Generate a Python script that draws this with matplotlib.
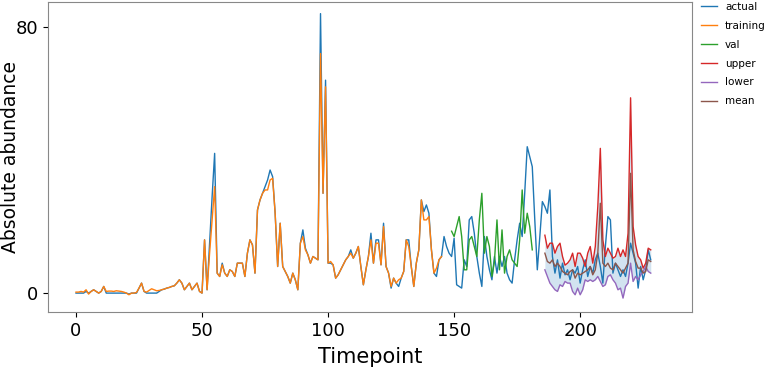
import numpy as np
import matplotlib
matplotlib.use('Agg')
import matplotlib.pyplot as plt

plt.rcParams['font.family'] = ['DejaVu Sans']

# observed abundance, timepoints 0..228
actual = [0, 0, 0, 0, 0.5, 0, 0.5, 1, 0.5, 0,
          0.5, 2, 0, 0, 0, 0, 0, 0, 0, 0,
          0, -0.3, 0, 0, 0, 1.5, 3, 0.5, 0, 0,
          0, 0, 0, 0.5, 1, 1.2, 1.5, 1.7, 2, 2.2,
          3, 4, 3, 1, 2, 3, 1, 2, 3, 0.5,
          0, 16, 1, 15, 29, 42, 6, 5, 9, 6,
          5, 7, 6.5, 5, 9, 9, 9, 5, 12, 16,
          14.5, 6, 25, 28, 30, 32, 34, 37, 35, 24,
          8, 21, 8, 6.5, 5, 3, 6, 4, 1, 15,
          19, 13.5, 11.5, 9, 11, 10.5, 10, 84, 30, 64,
          9, 9, 8.5, 4.5, 5.5, 7, 8.5, 10, 11, 13,
          10.5, 12, 14, 8, 2.5, 7, 11, 18, 9, 16,
          16, 8.5, 21, 8, 6, 1.5, 4.5, 3, 2, 4.5,
          6.5, 16, 16, 8, 2, 9, 13, 28, 24.5, 26.5,
          24, 13, 6, 5, 10, 11, 17, 14, 12, 11,
          16.5, 2.5, 2, 1.5, 10, 8, 22, 23, 18, 11,
          6, 2, 17, 11, 7, 4, 11, 6, 11, 8,
          11, 6, 4, 3, 10, 16, 21, 17, 30, 44,
          41, 38, 22, 7, 17, 27.5, 26, 24, 31, 11,
          6, 10, 4.5, 9, 5.5, 7, 4, 7, 6, 8,
          3, 7, 10, 5, 8, 6, 10, 12, 8, 3,
          14, 23, 22, 6, 9, 7, 5, 7, 5, 9,
          15, 12, 9, 1.5, 8, 4, 7, 13, 10]

# fitted values on the training period, timepoints 0..145
training = [0.3, 0.3, 0.5, 0.3, 1, -0.3, 0.5, 1, 0.5, 0,
            0.5, 2, 0.5, 0.6, 0.6, 0.5, 0.7, 0.6, 0.5, 0.3,
            0, -0.5, 0, 0, 0.2, 1.5, 3, 0.5, 0.3, 0.8,
            1.3, 1, 0.7, 0.8, 1, 1.2, 1.5, 1.7, 2, 2.2,
            3, 4, 3, 1, 2, 3, 1, 2, 3, 0.5,
            0, 16, 1, 12, 22, 32, 6, 5, 8.5, 6,
            5, 7, 6.5, 5, 9, 9, 9, 5, 12, 16,
            14.5, 6, 25, 28, 30, 31, 31, 34, 34.5, 24,
            8, 21, 8, 6.5, 5, 3, 6, 4, 1, 15,
            17, 13, 11.5, 9, 11, 10.5, 10, 72, 30, 62,
            9, 9.5, 8.5, 4.5, 5.5, 7, 8.5, 10, 11, 12,
            10.5, 12, 14, 8, 2.5, 7, 11, 16, 9, 15,
            15, 8.5, 20, 8, 6, 2, 4.5, 3, 4, 4.5,
            6.5, 16, 14, 8, 2, 9, 13, 28, 22, 22,
            23, 13, 6, 7.5, 10, 11]

# predictions on the validation period, timepoints 149..181
val = [18.6, 17, 20, 23, 17, 7, 7, 16, 17, 14,
       11, 22, 30, 12, 17, 14, 5, 9.5, 22, 7,
       19, 6, 11, 13, 10, 9, 8, 16, 31, 18,
       24, 20, 13]

# forecast band, timepoints 186..228
upper = [17.4, 13.5, 15, 15, 12, 14, 15, 11, 8.4, 9,
         10, 12, 8, 12, 12, 10.5, 8, 12, 14, 9,
         14, 26, 43.5, 16, 11, 13.5, 12, 10.5, 11, 13.5,
         11, 13, 11, 18, 58.7, 20, 14.5, 11, 10, 7.5,
         9, 13.5, 13]
lower = [7, 5, 3, 2, 1, 0.5, 2.5, 2, 3.5, 3,
         3, 0.5, -0.5, 1.5, -0.5, 1, 4, 3.5, 4, 3.5,
         4, 5, 3.5, 2, 2.5, 5, 5.5, 4, 3, 1,
         1.5, -1.5, 2, 3, 9, 3.5, 5, 4, 5.5, 6.5,
         8, 6.5, 6]
mean = [12, 9.5, 9, 10, 8, 9, 8, 6.5, 6, 5.5,
        6.5, 7, 4.5, 6, 5.5, 6, 6.5, 7, 8, 5.5,
        7, 12, 27, 9, 8, 9, 7.5, 7, 9, 8,
        7, 6, 7.5, 9, 36, 13, 9.5, 7.5, 7.5, 6,
        6.5, 10, 9.5]

t_actual = np.arange(len(actual))
t_train = np.arange(len(training))
t_val = np.arange(149, 149 + len(val))
t_fc = np.arange(186, 186 + len(upper))

fig = plt.figure(figsize=(7.67, 3.68), dpi=100)
ax = fig.add_axes([0.0626, 0.152, 0.8394, 0.8426])

ax.plot(t_actual, actual, color='C0', lw=1.0, label='actual')
ax.plot(t_train, training, color='C1', lw=1.0, label='training')
ax.plot(t_val, val, color='C2', lw=1.0, label='val')
ax.plot(t_fc, upper, color='C3', lw=1.0, label='upper')
ax.plot(t_fc, lower, color='C4', lw=1.0, label='lower')
ax.plot(t_fc, mean, color='C5', lw=1.0, label='mean')
ax.fill_between(t_fc, lower, upper, color='C0', alpha=0.2, lw=0)

ax.set_xlim(-11.1, 244.3)
ax.set_ylim(-5.7, 87.5)
ax.set_xticks([0, 50, 100, 150, 200])
ax.set_yticks([0, 80])
ax.tick_params(labelsize=13)
for s in ax.spines.values():
    s.set_color('#888888')

ax.set_xlabel('Timepoint', fontsize=15, labelpad=5)
ax.set_ylabel('Absolute abundance', fontsize=13.5)
ax.yaxis.set_label_coords(-0.044, 0.5)

ax.legend(loc='upper left', bbox_to_anchor=(1.0, 1.03), frameon=False,
          fontsize=7.5, handlelength=1.5, labelspacing=0.85)

fig.savefig('out.png', dpi=100)
